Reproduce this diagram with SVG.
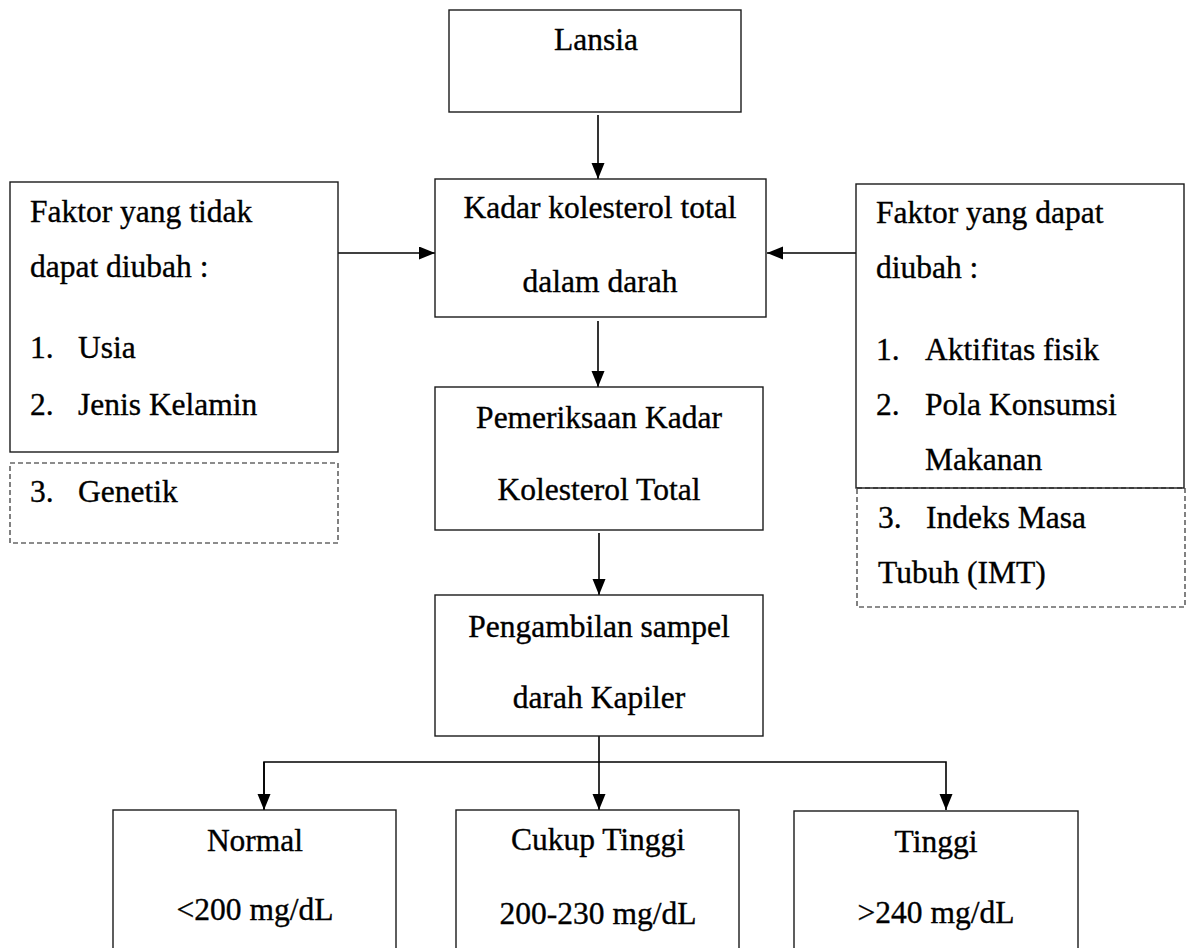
<svg xmlns="http://www.w3.org/2000/svg" width="1186" height="948" viewBox="0 0 1186 948">
<style>
.box{fill:#fff;stroke:#1a1a1a;stroke-width:1.4}
.dash{fill:none;stroke:#1a1a1a;stroke-width:1.1;stroke-dasharray:5,3}
text{font-family:'Liberation Serif','Times New Roman',Times,serif;font-size:31.5px;fill:#000;stroke:#000;stroke-width:0.35px}
.c{text-anchor:middle}
.ln{fill:none;stroke:#000;stroke-width:1.6}
</style>
<defs>
<marker id="ah" markerUnits="userSpaceOnUse" markerWidth="16" markerHeight="14" refX="16" refY="6.5" orient="auto">
<path d="M0,0 L16,6.5 L0,13 z" fill="#000"/>
</marker>
</defs>
<rect width="1186" height="948" fill="#fff"/>

<g id="connectors">
<line class="ln" x1="598" y1="115" x2="598" y2="179" marker-end="url(#ah)"/>
<line class="ln" x1="338" y1="253" x2="435" y2="253" marker-end="url(#ah)"/>
<line class="ln" x1="856" y1="253" x2="767" y2="253" marker-end="url(#ah)"/>
<line class="ln" x1="598" y1="321" x2="598" y2="387" marker-end="url(#ah)"/>
<line class="ln" x1="599" y1="533" x2="599" y2="595" marker-end="url(#ah)"/>
<line class="ln" x1="599" y1="736" x2="599" y2="810" marker-end="url(#ah)"/>
<polyline class="ln" points="264,810 264,762 946,762 946,810" marker-end="url(#ah)"/>
<line class="ln" x1="264" y1="762" x2="264" y2="810" marker-end="url(#ah)"/>
</g>

<g font-family="Liberation Serif, serif">
<g id="lansia">
<rect class="box" x="449" y="10" width="292" height="102"/>
<text class="c" x="596" y="50">Lansia</text>
</g>

<g id="kadar">
<rect class="box" x="435" y="179" width="331" height="138"/>
<text class="c" x="600" y="218">Kadar kolesterol total</text>
<text class="c" x="600" y="292">dalam darah</text>
</g>

<g id="faktor-tidak">
<rect class="box" x="10" y="182" width="328" height="270"/>
<text x="30" y="222">Faktor yang tidak</text>
<text x="30" y="277">dapat diubah :</text>
<text x="30" y="358">1.</text><text x="78" y="358">Usia</text>
<text x="30" y="415">2.</text><text x="78" y="415">Jenis Kelamin</text>
</g>

<g id="genetik">
<rect class="dash" x="10" y="463" width="328" height="80"/>
<text x="30" y="502">3.</text><text x="78" y="502">Genetik</text>
</g>

<g id="faktor-dapat">
<rect class="box" x="856" y="184" width="328" height="304"/>
<text x="876" y="223">Faktor yang dapat</text>
<text x="876" y="278">diubah :</text>
<text x="876" y="360">1.</text><text x="925" y="360">Aktifitas fisik</text>
<text x="876" y="415">2.</text><text x="925" y="415">Pola Konsumsi</text>
<text x="925" y="470">Makanan</text>
</g>

<g id="imt">
<rect class="dash" x="857" y="488" width="328" height="119"/>
<text x="878" y="528">3.</text><text x="926" y="528">Indeks Masa</text>
<text x="878" y="583">Tubuh (IMT)</text>
</g>

<g id="pemeriksaan">
<rect class="box" x="435" y="387" width="328" height="143"/>
<text class="c" x="599" y="428">Pemeriksaan Kadar</text>
<text class="c" x="599" y="500">Kolesterol Total</text>
</g>

<g id="pengambilan">
<rect class="box" x="435" y="595" width="328" height="141"/>
<text class="c" x="599" y="637">Pengambilan sampel</text>
<text class="c" x="599" y="708">darah Kapiler</text>
</g>

<g id="normal">
<rect class="box" x="113" y="810" width="283" height="160"/>
<text class="c" x="255" y="851">Normal</text>
<text class="c" x="255" y="920">&lt;200 mg/dL</text>
</g>

<g id="cukup-tinggi">
<rect class="box" x="456" y="810" width="283" height="160"/>
<text class="c" x="598" y="850">Cukup Tinggi</text>
<text class="c" x="598" y="924">200-230 mg/dL</text>
</g>

<g id="tinggi">
<rect class="box" x="794" y="811" width="284" height="160"/>
<text class="c" x="936" y="852">Tinggi</text>
<text class="c" x="936" y="923">&gt;240 mg/dL</text>
</g>
</g>
</svg>
